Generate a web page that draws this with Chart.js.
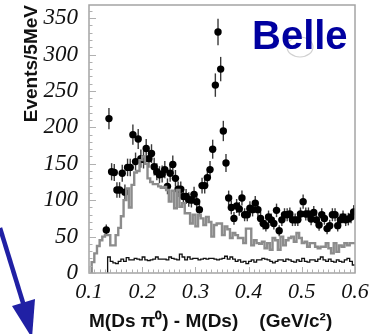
<!DOCTYPE html>
<html>
<head>
<meta charset="utf-8">
<script src="https://cdn.jsdelivr.net/npm/chart.js@4.4.1/dist/chart.umd.min.js"></script>
<style>
  html, body { margin: 0; padding: 0; background: #fff; }
  #myChart { display: block; }
</style>
</head>
<body>
<canvas id="myChart" width="381" height="334"></canvas>
<script>
// bins of 5 MeV from 0.1 to 0.6 GeV/c^2
const binStart = 0.1;
const binWidth = 0.005;

// data points (events per bin), null where there is no point
const events = [null, null, null, null, null, null,
  59, 212, 139, 138, 114, 114, 137, 111, 145, 145, 190, 153, 184, 157,
  156, 171, 157, 164, 146, 139, 135, 136, 142, 119, 137, 149, 130, 115,
  115, 105, 105, 101, 100, 108, 98, 87, 120, 120, 131, 142, 170, 258,
  331, 280, 195, 151, 103, 90, 75, 92, 88, 103, 80, 80, 89, 87, 96, 87,
  75, 68, 65, 77, 73, 68, 86, 58, 73, 80, 80, 81, 73, 73, 73, 81, 98, 81,
  81, 74, 83, 73, 66, 80, 75, 61, 65, 80, 80, 65, 73, 77, 73, 74, 77, 84];

// gray histogram
const grayHist = [null, 15, 27, 37, 45, 50, 52, 52, 38, 38,
  52, 62, 78, 100, 116, 90, 121, 138, 140, 155,
  160, 150, 130, 125, 122, 122, 119, 117, 118, 114,
  98, 113, 89, 114, 91, 96, 82, 82, 68, 80,
  64, 80, 75, 66, 77, 70, 50, 66, 68, 68,
  52, 64, 60, 48, 55, 52, 48, 48, 41, 61,
  61, 38, 45, 41, 40, 43, 34, 41, 32, 48,
  45, 32, 50, 38, 45, 48, 50, 43, 55, 48,
  41, 43, 36, 41, 41, 36, 34, 36, 36, 41,
  34, 27, 41, 29, 38, 36, 41, 38, 41, 41];

// black histogram at the bottom
const blackHist = [null, null, null, null, null, null, null,
  22, 16, 14, 13, 16, 19, 16, 21, 18, 18, 20, 19, 18, 22, 18, 17, 18, 19,
  22, 19, 19, 19, 18, 22, 20, 19, 18, 26, 22, 18, 22, 19, 20, 20, 18, 19,
  20, 19, 20, 20, 19, 18, 19, 20, 23, 19,
  22, 19, 16, 18, 15, 16, 13, 16, 18, 15, 18, 18, 20, 19, 18, 16, 14, 16,
  18, 18, 16, 19, 18, 16, 15, 18, 16, 20, 16, 15, 18, 18, 16, 19, 22, 18,
  16, 19, 16, 15, 18, 16, 15, 18, 20, 16, 11];

const xTicks = [0.1, 0.2, 0.3, 0.4, 0.5, 0.6];
const yTicks = [0, 50, 100, 150, 200, 250, 300, 350];

function edge(k) { return binStart + binWidth * k; }

// step outline: left edge of each bin, then the right edge of the last one
function histPoints(values) {
  const pts = [];
  let last = null;
  values.forEach((v, k) => {
    if (v === null) return;
    if (last === null) pts.push({ x: edge(k), y: 0 });
    pts.push({ x: edge(k), y: v });
    last = k;
  });
  pts.push({ x: edge(last + 1), y: values[last] });
  return pts;
}

const eventPoints = [];
events.forEach((v, k) => {
  if (v !== null) eventPoints.push({ x: edge(k) + binWidth / 2, y: v });
});

const errorBars = {
  id: 'errorBars',
  beforeDatasetDraw(chart, args) {
    if (args.index !== 3) return;
    const { ctx, scales: { x, y } } = chart;
    ctx.save();
    ctx.strokeStyle = '#3a3a3a';
    ctx.lineWidth = 1.4;
    eventPoints.forEach(p => {
      const err = Math.sqrt(p.y); // poisson errors
      const px = x.getPixelForValue(p.x);
      ctx.beginPath();
      ctx.moveTo(px, y.getPixelForValue(p.y - err));
      ctx.lineTo(px, y.getPixelForValue(p.y + err));
      ctx.stroke();
    });
    ctx.restore();
  }
};

const frame = {
  id: 'frame',
  afterDraw(chart) {
    const { ctx, chartArea: a, scales: { x, y } } = chart;
    ctx.save();
    ctx.strokeStyle = '#a4a4a4';
    ctx.lineWidth = 1.5;
    ctx.strokeRect(a.left, a.top, a.right - a.left, a.bottom - a.top);

    // inward ticks
    ctx.lineWidth = 1;
    ctx.strokeStyle = '#b0b0b0';
    ctx.beginPath();
    for (let v = 0; v <= 360; v += 10) {
      const py = Math.round(y.getPixelForValue(v)) + 0.5;
      const len = v % 50 === 0 ? 7 : 3.5;
      ctx.moveTo(a.left, py);
      ctx.lineTo(a.left + len, py);
    }
    for (let i = 0; i <= 50; i++) {
      const px = Math.round(x.getPixelForValue(0.1 + i * 0.01)) + 0.5;
      const len = i % 10 === 0 ? 6 : 3.5;
      ctx.moveTo(px, a.bottom);
      ctx.lineTo(px, a.bottom - len);
    }
    ctx.stroke();

    // Belle label with the faint logo ring
    ctx.strokeStyle = 'rgba(150,150,150,0.45)';
    ctx.lineWidth = 1.2;
    ctx.beginPath();
    ctx.ellipse(300, 47, 13, 10, 0, 0, Math.PI * 2);
    ctx.stroke();
    ctx.font = 'bold 40px "Liberation Sans"';
    ctx.fillStyle = '#0000a0';
    ctx.textBaseline = 'alphabetic';
    ctx.fillText('Belle', 252, 49);

    // blue arrow bottom left
    ctx.strokeStyle = '#2020a4';
    ctx.fillStyle = '#2020a4';
    ctx.lineWidth = 4.5;
    ctx.beginPath();
    ctx.moveTo(0, 228);
    ctx.lineTo(24, 306);
    ctx.stroke();
    ctx.beginPath();
    ctx.moveTo(32, 338);
    ctx.lineTo(12, 306);
    ctx.lineTo(35, 299);
    ctx.closePath();
    ctx.fill();
    ctx.restore();
  }
};

const ctx = document.getElementById('myChart').getContext('2d');
const chart = new Chart(ctx, {
  data: {
    datasets: [
      {
        type: 'line',
        data: histPoints(grayHist),
        borderColor: '#8c8c8c',
        borderWidth: 2.4,
        stepped: 'before',
        pointRadius: 0,
        fill: false
      },
      {
        type: 'line',
        data: histPoints(grayHist),
        borderColor: '#f6f6f6',
        borderWidth: 0.9,
        stepped: 'before',
        pointRadius: 0,
        fill: false
      },
      {
        type: 'line',
        data: histPoints(blackHist),
        borderColor: '#111',
        borderWidth: 1.3,
        stepped: 'before',
        pointRadius: 0,
        fill: false
      },
      {
        type: 'scatter',
        data: eventPoints,
        pointRadius: 3.7,
        backgroundColor: '#000',
        borderWidth: 0
      }
    ]
  },
  options: {
    responsive: false,
    animation: false,
    layout: { padding: { top: 5, right: 26, left: 0, bottom: 0 } },
    plugins: { legend: { display: false }, tooltip: { enabled: false } },
    scales: {
      x: {
        type: 'linear',
        min: 0.1,
        max: 0.6,
        afterFit: s => {
          s.height = 61;
          s.paddingLeft = 0; s.paddingRight = 0;
          s.paddingTop = 0; s.paddingBottom = 0;
        },
        afterBuildTicks: s => { s.ticks = xTicks.map(v => ({ value: v })); },
        grid: { display: false, drawTicks: false },
        border: { display: false },
        ticks: {
          padding: 6,
          color: '#111',
          font: { family: 'Liberation Serif', style: 'italic', size: 22 },
          callback: v => v.toFixed(1)
        },
        title: {
          display: true,
          align: 'start',
          text: 'M(Ds \u03c0\u2070) - M(Ds)    (GeV/c\u00b2)',
          color: '#111',
          font: { family: 'Liberation Sans', weight: 'bold', size: 19 },
          padding: { top: 0, bottom: 1 }
        }
      },
      y: {
        type: 'linear',
        min: 0,
        max: 368,
        afterFit: s => {
          s.width = 89;
          s.paddingLeft = 0; s.paddingRight = 0;
          s.paddingTop = 0; s.paddingBottom = 0;
        },
        afterBuildTicks: s => { s.ticks = yTicks.map(v => ({ value: v })); },
        grid: { display: false, drawTicks: false },
        border: { display: false },
        ticks: {
          padding: 11,
          color: '#111',
          font: { family: 'Liberation Serif', style: 'italic', size: 23 }
        },
        title: {
          display: true,
          align: 'end',
          text: 'Events/5MeV',
          color: '#111',
          font: { family: 'Liberation Sans', weight: 'bold', size: 19 },
          padding: { top: 20, bottom: 0 }
        }
      }
    }
  },
  plugins: [errorBars, frame]
});
</script>
</body>
</html>
